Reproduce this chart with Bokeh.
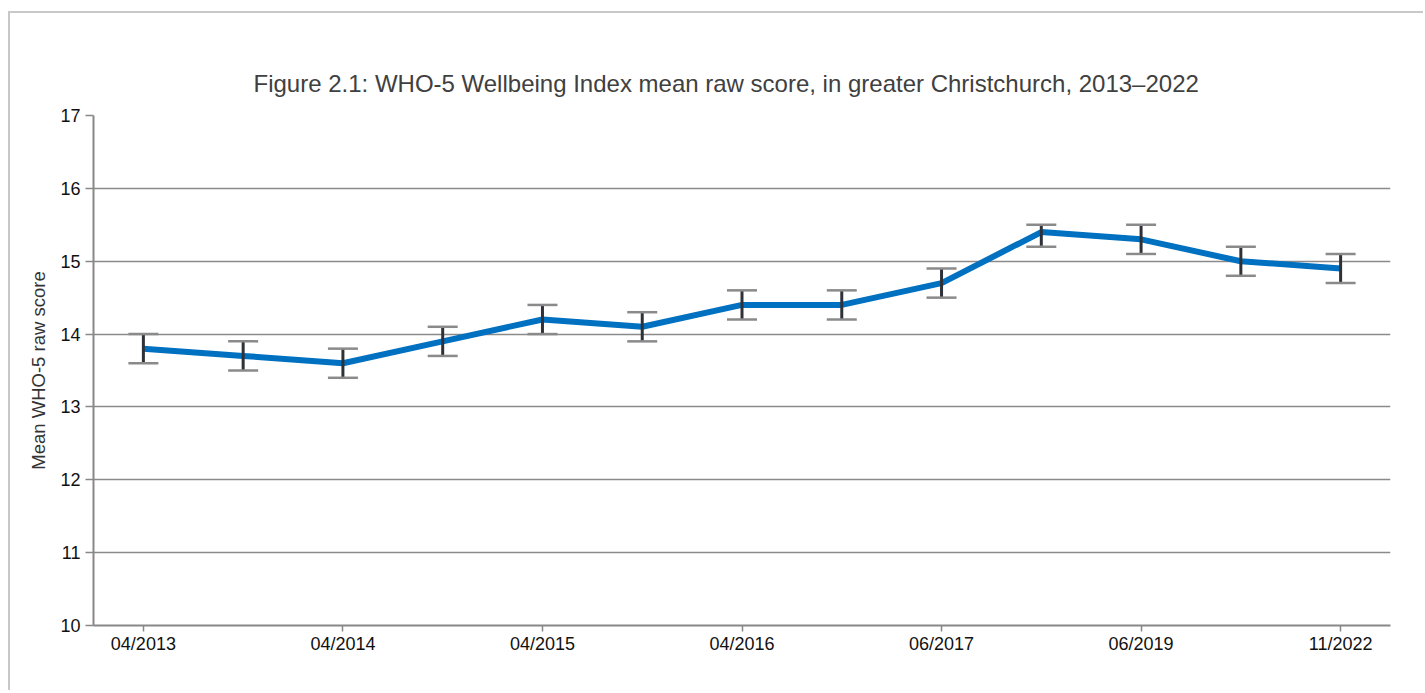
from bokeh.plotting import figure
from bokeh.models import Range1d, FixedTicker, ColumnDataSource, Whisker, TeeHead
from bokeh.embed import file_html
from bokeh.resources import INLINE

# ---- data ----
periods = ["04/2013", "09/2013", "04/2014", "09/2014", "04/2015", "09/2015",
           "04/2016", "09/2016", "06/2017", "09/2018", "06/2019", "09/2020", "11/2022"]
mean_score = [13.8, 13.7, 13.6, 13.9, 14.2, 14.1, 14.4, 14.4, 14.7, 15.4, 15.3, 15.0, 14.9]
ci_lower = [13.6, 13.5, 13.4, 13.7, 14.0, 13.9, 14.2, 14.2, 14.5, 15.2, 15.1, 14.8, 14.7]
ci_upper = [14.0, 13.9, 13.8, 14.1, 14.4, 14.3, 14.6, 14.6, 14.9, 15.5, 15.5, 15.2, 15.1]
shown_ticks = ["04/2013", "04/2014", "04/2015", "04/2016", "06/2017", "06/2019", "11/2022"]
y_ticks = [10, 11, 12, 13, 14, 15, 16, 17]

FONT = "Liberation Sans"

xs = list(range(len(periods)))
src = ColumnDataSource(dict(x=xs, y=mean_score, lo=ci_lower, hi=ci_upper))

p = figure(width=1415, height=679, output_backend="svg", toolbar_location=None,
           x_range=Range1d(-0.5, len(periods) - 0.5), y_range=Range1d(min(y_ticks), max(y_ticks)),
           min_border_left=83, min_border_right=35, min_border_top=102, min_border_bottom=67,
           styles={"border-left": "2px solid #c8c8c8", "border-top": "2px solid #c8c8c8",
                   "margin-top": "11px", "margin-left": "8px"})

p.title.text = "Figure 2.1: WHO-5 Wellbeing Index mean raw score, in greater Christchurch, 2013\u20132022"
p.title.align = "left"
p.title.offset = 160
p.title.text_font = FONT
p.title.text_font_size = "24px"
p.title.text_font_style = "normal"
p.title.text_color = "#404040"
p.title.standoff = 38

p.outline_line_color = None
p.background_fill_color = "white"
p.border_fill_color = "white"

# x axis
tick_pos = [periods.index(t) for t in shown_ticks]
p.xaxis.ticker = FixedTicker(ticks=tick_pos)
p.xaxis.major_label_overrides = {i: periods[i] for i in tick_pos}
p.xaxis.minor_tick_line_color = None
p.xaxis.major_tick_out = 6
p.xaxis.major_tick_in = 0
p.xaxis.major_tick_line_color = "#888888"
p.xaxis.major_tick_line_width = 1.5
p.xaxis.axis_line_color = "#888888"
p.xaxis.axis_line_width = 2
p.xaxis.major_label_text_font = FONT
p.xaxis.major_label_text_font_size = "18px"
p.xaxis.major_label_text_color = "#111111"
p.xaxis.major_label_standoff = 2
p.xgrid.visible = False

# y axis
p.yaxis.ticker = FixedTicker(ticks=y_ticks)
p.yaxis.minor_tick_line_color = None
p.yaxis.major_tick_out = 8
p.yaxis.major_tick_in = 0
p.yaxis.major_tick_line_color = "#888888"
p.yaxis.major_tick_line_width = 1.5
p.yaxis.axis_line_color = "#888888"
p.yaxis.axis_line_width = 2
p.yaxis.major_label_text_font = FONT
p.yaxis.major_label_text_font_size = "18px"
p.yaxis.major_label_text_color = "#111111"
p.yaxis.major_label_standoff = 5
p.yaxis.axis_label = "Mean WHO-5 raw score"
p.yaxis.axis_label_text_font = FONT
p.yaxis.axis_label_text_font_size = "18.5px"
p.yaxis.axis_label_text_font_style = "normal"
p.yaxis.axis_label_text_color = "#333333"
p.yaxis.axis_label_standoff = 8
p.ygrid.grid_line_color = "#8a8a8a"
p.ygrid.grid_line_width = 1.5

# mean line
p.line("x", "y", source=src, line_color="#0070C0", line_width=6, line_join="round")

# error bars
w = Whisker(base="x", lower="lo", upper="hi", source=src, dimension="height",
            line_color="#2e3238", line_width=3,
            upper_head=TeeHead(size=30, line_color="#8a8a8a", line_width=2.5),
            lower_head=TeeHead(size=30, line_color="#8a8a8a", line_width=2.5),
            level="overlay")
p.add_layout(w)

open("out.html", "w").write(file_html(p, INLINE))
